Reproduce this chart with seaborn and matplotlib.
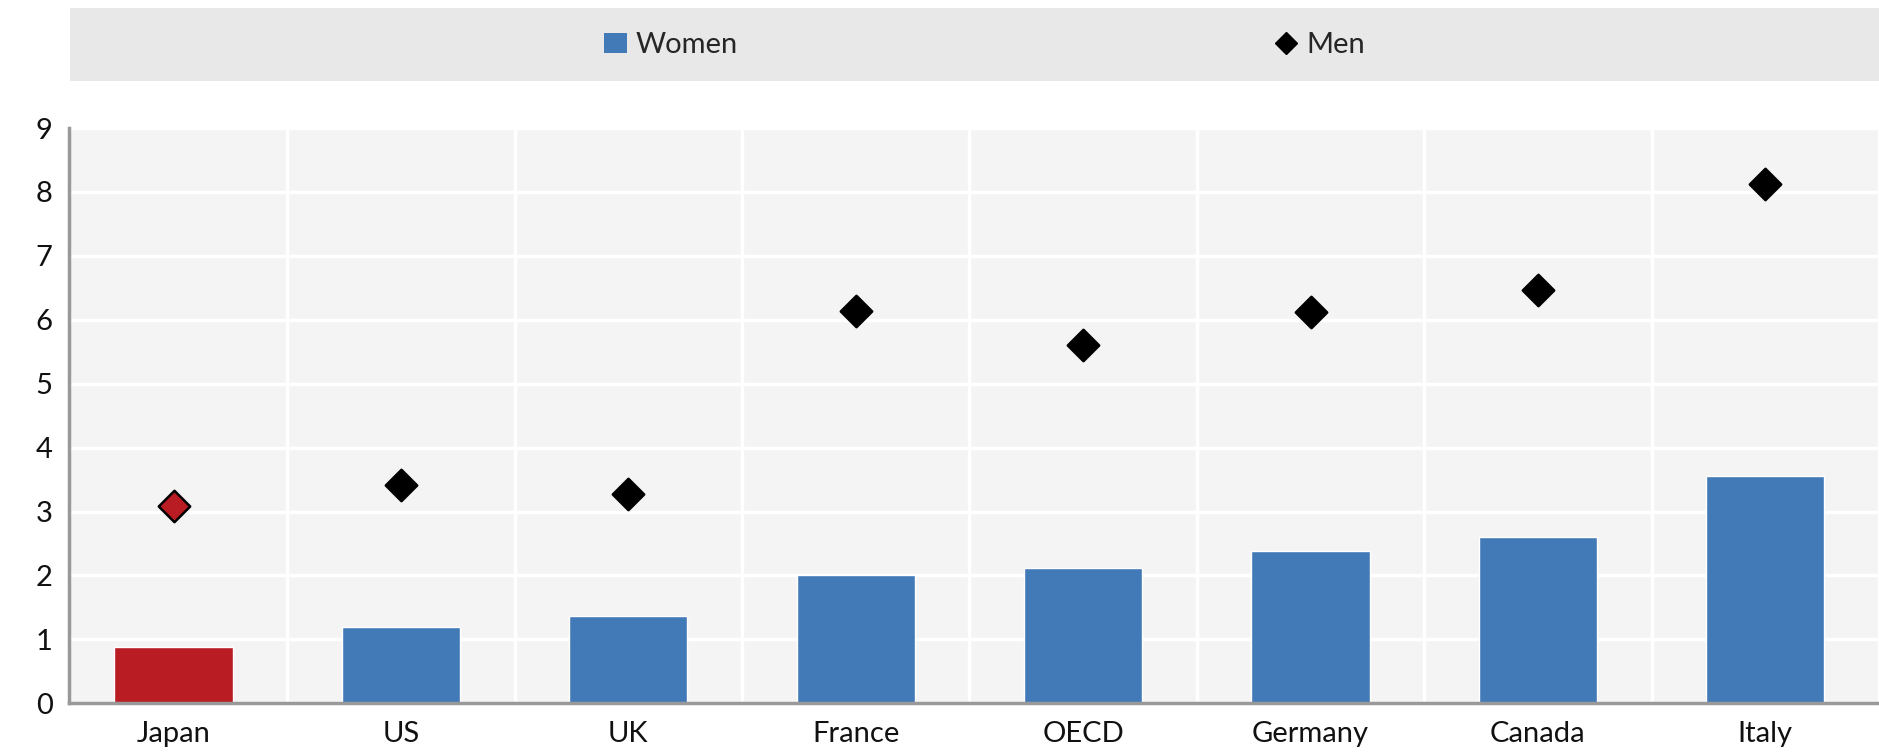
import seaborn as sns
import matplotlib.pyplot as plt
from matplotlib.patches import Rectangle
from matplotlib.lines import Line2D
from matplotlib.ticker import FixedLocator

countries = ["Japan", "US", "UK", "France", "OECD", "Germany", "Canada", "Italy"]
women = [0.88, 1.20, 1.36, 2.00, 2.12, 2.38, 2.60, 3.56]
men = [3.09, 3.42, 3.28, 6.14, 5.60, 6.12, 6.46, 8.12]

blue = "#427ab8"
red = "#ba1c24"
bar_colors = [red] + [blue] * 7
dot_colors = [red] + ["black"] * 7

sns.set_style("white")
plt.rcParams["font.family"] = ["Lato", "DejaVu Sans"]

fig = plt.figure(figsize=(18.79, 7.53), dpi=100)
ax = fig.add_axes([0.0367, 0.066, 0.9633, 0.764])

# grey band behind the legend
fig.patches.append(Rectangle((0.037, 0.892), 0.963, 0.097, transform=fig.transFigure,
                             facecolor="#e8e8e8", edgecolor="none", zorder=0))

sns.barplot(x=countries, y=women, hue=countries, palette=bar_colors, legend=False,
            width=0.52, saturation=1, ax=ax, zorder=2)
sns.stripplot(x=countries, y=men, hue=countries, palette=dot_colors, legend=False,
              jitter=False, marker="D", size=16, linewidth=1.8, edgecolor="black",
              ax=ax, zorder=3)

ax.set_facecolor("#f4f4f4")
ax.set_xlim(-0.46, 7.5)
ax.set_ylim(0, 9)
ax.set_yticks(range(0, 10))
ax.xaxis.set_minor_locator(FixedLocator([i + 0.5 for i in range(0, 8)]))
ax.grid(True, axis="y", color="white", linewidth=2.5, zorder=1)
ax.grid(True, axis="x", which="minor", color="white", linewidth=2.5, zorder=1)
ax.set_axisbelow(True)

for s in ["top", "right"]:
    ax.spines[s].set_visible(False)
for s in ["left", "bottom"]:
    ax.spines[s].set_color("#999999")
    ax.spines[s].set_linewidth(2.5)

ax.tick_params(axis="x", which="major", length=0, labelsize=21, pad=13, labelcolor="#111111")
ax.tick_params(axis="x", which="minor", direction="in", length=9, width=2.5, color="#999999")
ax.tick_params(axis="y", direction="in", length=8, width=2.5, color="#999999",
               labelsize=21, pad=24, labelcolor="#111111")
for lab in ax.get_yticklabels():
    lab.set_horizontalalignment("left")
ax.set_xlabel("")
ax.set_ylabel("")

handles = [
    Rectangle((0, 0), 1, 1, facecolor=blue, edgecolor="none"),
    Line2D([], [], marker="D", color="black", linestyle="none", markersize=11),
]
fig.legend(handles, ["Women", "Men"], loc="center", bbox_to_anchor=(0.524, 0.94),
           ncol=2, frameon=False, fontsize=21, columnspacing=18.4, handlelength=0.8,
           handletextpad=0.3)

fig.savefig("out.png", dpi=100)
